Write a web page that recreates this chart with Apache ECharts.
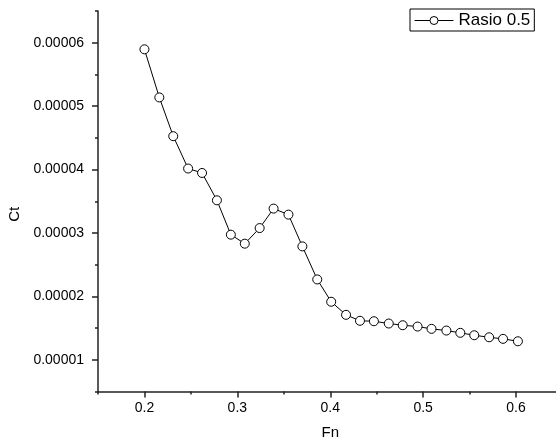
<!DOCTYPE html>
<html>
<head>
<meta charset="utf-8">
<script src="https://cdn.jsdelivr.net/npm/echarts@6/dist/echarts.min.js"></script>
<style>
  html, body { margin: 0; padding: 0; background: #fff; }
  #chart { width: 556px; height: 441px; }
</style>
</head>
<body>
<div id="chart"></div>
<script>
// Fn (x) and Ct (y)
var fnValues = [0.200, 0.216, 0.231, 0.247, 0.262, 0.278, 0.293, 0.308, 0.324, 0.339,
                0.355, 0.370, 0.386, 0.401, 0.417, 0.432, 0.447, 0.463, 0.478, 0.494,
                0.509, 0.525, 0.540, 0.555, 0.571, 0.586, 0.602];
var ctValues = [5.896e-5, 5.137e-5, 4.526e-5, 4.016e-5, 3.946e-5, 3.515e-5, 2.973e-5, 2.831e-5, 3.077e-5, 3.384e-5,
                3.289e-5, 2.788e-5, 2.267e-5, 1.915e-5, 1.709e-5, 1.615e-5, 1.608e-5, 1.572e-5, 1.545e-5, 1.524e-5,
                1.488e-5, 1.461e-5, 1.425e-5, 1.387e-5, 1.355e-5, 1.330e-5, 1.292e-5];
var xTicks = [0.2, 0.3, 0.4, 0.5, 0.6];
var yTicks = [0.00001, 0.00002, 0.00003, 0.00004, 0.00005, 0.00006];
var seriesName = 'Rasio 0.5';

var points = [];
for (var i = 0; i < fnValues.length; i++) {
    points.push([fnValues[i], ctValues[i]]);
}

var font = '"Liberation Sans", Arial, sans-serif';
var axisColor = '#222';
var textColor = '#000';

var chart = echarts.init(document.getElementById('chart'));

var option = {
    animation: false,
    backgroundColor: '#fff',
    grid: {
        left: 98,
        top: 11,
        right: -6.5,
        bottom: 49.5,
        containLabel: false,
        outerBoundsMode: 'none'
    },
    legend: {
        data: [seriesName],
        left: 410,
        top: 9,
        padding: [3, 4, 2, 4],
        borderColor: '#000',
        borderWidth: 1,
        itemWidth: 39,
        itemHeight: 10,
        lineStyle: { width: 1, color: '#000' },
        itemStyle: { color: '#fff', borderColor: '#000', borderWidth: 1 },
        textStyle: { fontFamily: font, fontSize: 17, color: textColor }
    },
    xAxis: [
        {
            type: 'value',
            position: 'bottom',
            min: 0.15,
            max: 0.65,
            interval: 0.05,
            name: 'Fn',
            nameLocation: 'middle',
            nameGap: 34,
            nameTextStyle: { fontFamily: font, fontSize: 15, color: textColor },
            axisLine: { show: true, lineStyle: { color: axisColor, width: 1.5 } },
            axisTick: { show: true, inside: false, length: 6, customValues: xTicks, lineStyle: { color: axisColor, width: 1.5 } },
            axisLabel: {
                customValues: xTicks,
                margin: 10,
                fontFamily: font, fontSize: 14, color: textColor,
                formatter: function (v) { return v.toFixed(1); }
            },
            splitLine: { show: false }
        },
        {
            // minor ticks every 0.05
            type: 'value',
            position: 'bottom',
            min: 0.15,
            max: 0.65,
            interval: 0.05,
            axisLine: { show: false },
            axisTick: { show: true, inside: false, length: 3, lineStyle: { color: axisColor, width: 1.5 } },
            axisLabel: { show: false },
            splitLine: { show: false }
        }
    ],
    yAxis: [
        {
            type: 'value',
            position: 'left',
            min: 0.000005,
            max: 0.000065,
            interval: 0.000005,
            name: 'Ct',
            nameLocation: 'middle',
            nameGap: 75,
            nameTextStyle: { fontFamily: font, fontSize: 15, color: textColor, padding: [0, 26, 0, 0] },
            axisLine: { show: true, lineStyle: { color: axisColor, width: 1.5 } },
            axisTick: { show: true, inside: false, length: 6, customValues: yTicks, lineStyle: { color: axisColor, width: 1.5 } },
            axisLabel: {
                customValues: yTicks,
                margin: 14,
                fontFamily: font, fontSize: 14, color: textColor,
                formatter: function (v) { return v.toFixed(5); }
            },
            splitLine: { show: false }
        },
        {
            // minor ticks every 0.000005
            type: 'value',
            position: 'left',
            min: 0.000005,
            max: 0.000065,
            interval: 0.000005,
            axisLine: { show: false },
            axisTick: { show: true, inside: false, length: 3, lineStyle: { color: axisColor, width: 1.5 } },
            axisLabel: { show: false },
            splitLine: { show: false }
        }
    ],
    series: [
        {
            name: seriesName,
            type: 'line',
            xAxisIndex: 0,
            yAxisIndex: 0,
            data: points,
            symbol: 'circle',
            symbolSize: 9,
            lineStyle: { color: '#000', width: 1 },
            itemStyle: { color: '#fff', borderColor: '#000', borderWidth: 1 }
        }
    ]
};

chart.setOption(option);
</script>
</body>
</html>
